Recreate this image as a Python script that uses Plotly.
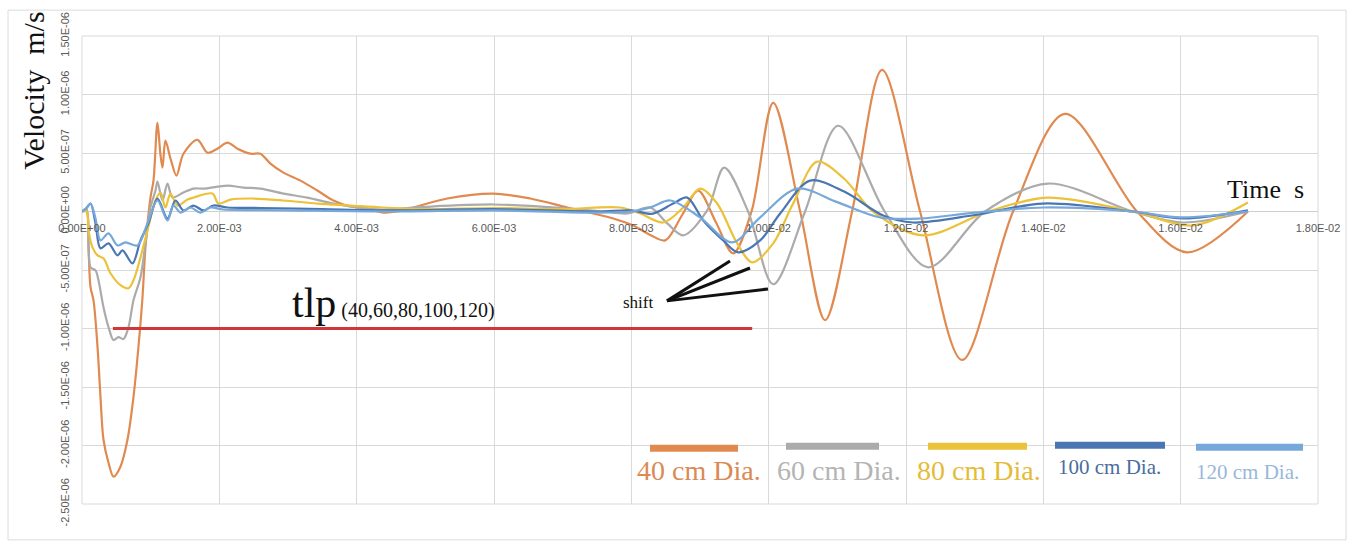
import plotly.graph_objects as go

# ---- series data: time in ms, particle velocity in 1e-6 m/s ----
time_40 = [0, 0.066, 0.095, 0.124, 0.167, 0.226, 0.269, 0.313, 0.386, 0.459, 0.560, 0.662, 0.750, 0.822,
           0.881, 0.924, 0.997, 1.041, 1.099, 1.140, 1.172, 1.215, 1.290, 1.376, 1.477, 1.681, 1.827, 1.972,
           2.118, 2.264, 2.453, 2.598, 2.744, 2.933, 3.181, 3.428, 3.661, 3.908, 4.156, 4.389, 4.593, 4.825,
           5.320, 5.990, 6.528, 7.067, 7.445, 7.737, 8.028, 8.275, 8.493, 8.740, 8.974, 9.230, 9.483, 9.750,
           10.066, 10.459, 10.822, 11.215, 11.652, 12.205, 12.817, 13.559, 14.316, 15.364, 16.092, 16.980]
vel_40 = [0, 0.0, -0.307, -0.647, -0.758, -1.158, -1.584, -1.951, -2.147, -2.266, -2.181, -1.951, -1.584, -1.158,
          -0.733, -0.307, 0.119, 0.264, 0.758, 0.500, 0.375, 0.605, 0.450, 0.307, 0.494, 0.613, 0.503, 0.537,
          0.588, 0.537, 0.494, 0.494, 0.409, 0.332, 0.264, 0.179, 0.094, 0.043, 0.026, -0.009, 0.0, 0.034,
          0.111, 0.153, 0.111, 0.034, -0.017, -0.060, -0.120, -0.200, -0.247, -0.030, 0.179, -0.090, -0.358, 0.0,
          0.928, 0.0, -0.928, 0.0, 1.210, 0.0, -1.269, 0.0, 0.835, 0.0, -0.349, 0.0]

time_60 = [0, 0.066, 0.124, 0.197, 0.240, 0.313, 0.386, 0.459, 0.531, 0.604, 0.677, 0.750, 0.852, 0.924,
           0.997, 1.070, 1.099, 1.172, 1.245, 1.317, 1.477, 1.623, 1.769, 2.118, 2.351, 2.598, 2.933, 3.282,
           3.661, 4.010, 4.389, 5.000, 6.000, 7.000, 7.600, 7.940, 8.275, 8.523, 8.756, 9.105, 9.352, 9.700,
           10.066, 10.530, 11.012, 11.690, 12.322, 13.150, 14.068, 15.306, 16.033, 16.980]
vel_60 = [0, 0.020, -0.477, -0.503, -0.588, -0.818, -0.988, -1.099, -1.073, -1.090, -0.988, -0.758, -0.562, -0.273,
          0.034, 0.179, 0.256, 0.094, 0.239, 0.120, 0.162, 0.196, 0.196, 0.221, 0.204, 0.196, 0.153, 0.119,
          0.068, 0.034, 0.017, 0.040, 0.060, 0.030, 0.0, -0.017, 0.034, -0.102, -0.204, 0.009, 0.375, 0.0,
          -0.622, 0.0, 0.733, 0.0, -0.477, 0.0, 0.239, 0.0, -0.094, 0.0]

time_80 = [0, 0.066, 0.095, 0.153, 0.226, 0.313, 0.415, 0.560, 0.677, 0.750, 0.852, 0.953, 1.070, 1.143,
           1.215, 1.288, 1.390, 1.536, 1.623, 1.900, 1.987, 2.162, 2.453, 2.933, 3.428, 3.908, 4.389, 5.000,
           6.000, 7.000, 7.838, 8.130, 8.464, 8.756, 9.003, 9.250, 9.541, 9.760, 10.066, 10.356, 10.706, 11.100,
           11.521, 12.249, 13.200, 14.054, 15.306, 16.179, 16.980]
vel_80 = [0, 0.0, -0.162, -0.307, -0.375, -0.400, -0.528, -0.630, -0.656, -0.588, -0.392, -0.162, 0.094, 0.162,
          0.034, 0.153, 0.051, 0.102, 0.119, 0.153, 0.068, 0.102, 0.111, 0.094, 0.068, 0.051, 0.034, 0.020,
          0.030, 0.020, 0.034, -0.017, -0.094, 0.034, 0.196, 0.068, -0.273, -0.434, -0.273, 0.068, 0.426, 0.280,
          0.0, -0.204, 0.0, 0.119, 0.0, -0.119, 0.077]

time_100 = [0, 0.066, 0.124, 0.197, 0.269, 0.386, 0.517, 0.590, 0.735, 0.852, 0.968, 1.099, 1.245, 1.361,
            1.477, 1.623, 1.769, 1.914, 2.118, 2.600, 3.500, 4.500, 6.000, 7.500, 8.000, 8.300, 8.610, 8.814,
            9.047, 9.338, 9.556, 9.876, 10.167, 10.604, 11.100, 11.667, 12.104, 13.000, 13.996, 15.306, 16.033,
            16.980]
vel_100 = [0, 0.030, 0.068, -0.102, -0.315, -0.273, -0.375, -0.332, -0.443, -0.247, -0.102, 0.111, -0.060, 0.094,
           0.009, 0.051, 0.009, 0.051, 0.034, 0.030, 0.020, 0.010, 0.020, 0.0, 0.010, -0.020, 0.068, 0.119,
           -0.077, -0.247, -0.349, -0.247, -0.017, 0.264, 0.170, -0.034, -0.094, -0.030, 0.068, 0.0, -0.060,
           0.009]

time_120 = [0, 0.066, 0.124, 0.197, 0.269, 0.386, 0.517, 0.633, 0.808, 0.953, 1.099, 1.245, 1.332, 1.434,
            1.579, 1.725, 1.870, 2.060, 3.000, 4.500, 6.000, 7.500, 8.000, 8.300, 8.566, 9.000, 9.469, 9.876,
            10.415, 11.000, 11.623, 12.205, 13.000, 14.000, 15.300, 16.000, 16.980]
vel_120 = [0, 0.030, 0.068, -0.060, -0.247, -0.187, -0.290, -0.264, -0.290, -0.102, 0.094, -0.077, 0.051, -0.009,
           0.034, -0.009, 0.034, 0.017, 0.010, 0.0, 0.010, -0.010, 0.0, 0.040, 0.094, -0.050, -0.264, -0.050,
           0.196, 0.080, -0.051, -0.060, -0.010, 0.034, 0.0, -0.050, 0.0]

series_names = ["40 cm Dia.", "60 cm Dia.", "80 cm Dia.", "100 cm Dia.", "120 cm Dia."]
series_time = [time_40, time_60, time_80, time_100, time_120]
series_vel = [vel_40, vel_60, vel_80, vel_100, vel_120]
series_colors = ["#E08A50", "#ABABAB", "#ECC23A", "#4A76B4", "#76A8DA"]
legend_text_colors = ["#D98A55", "#B4B4B4", "#E4BC3A", "#4A6D9E", "#98B8DA"]
legend_font_sizes = [28, 28, 28, 21, 21]

# axis ticks
x_ticks = [0.0, 0.002, 0.004, 0.006, 0.008, 0.010, 0.012, 0.014, 0.016, 0.018]
y_ticks = [-2.5e-6, -2.0e-6, -1.5e-6, -1.0e-6, -5.0e-7, 0.0, 5.0e-7, 1.0e-6, 1.5e-6]

# tlp span (s) drawn at -1e-6 m/s
tlp_start, tlp_end, tlp_level = 0.45e-3, 9.76e-3, -1.0e-6

MS = 1e-3
UM = 1e-6

W, H = 1353, 543
ML, MR, MT, MB = 82, 35, 34, 39
PW, PH = W - ML - MR, H - MT - MB


def px(x):
    return (x - ML) / PW


def py(y):
    return (H - MB - y) / PH


SERIF = "Liberation Serif"
SANS = "Liberation Sans"

fig = go.Figure()
for name, t, v, c in zip(series_names, series_time, series_vel, series_colors):
    fig.add_trace(go.Scatter(
        x=[ti * MS for ti in t], y=[vi * UM for vi in v], mode="lines", name=name,
        line=dict(color=c, width=2.2, shape="spline", smoothing=0.9), showlegend=False,
    ))

grid = "#d9d9d9"
fig.update_layout(
    width=W, height=H, margin=dict(l=ML, r=MR, t=MT, b=MB),
    paper_bgcolor="white", plot_bgcolor="white",
    xaxis=dict(range=[0, 0.018], tickvals=x_ticks, ticktext=[f"{v:.2E}" for v in x_ticks],
               showgrid=True, gridcolor=grid, gridwidth=1, zeroline=False, showline=False,
               anchor="free", position=(0 - y_ticks[0]) / (y_ticks[-1] - y_ticks[0]),
               ticks="", ticklabelstandoff=8, tickfont=dict(family=SANS, size=11, color="#595959")),
    yaxis=dict(range=[y_ticks[0], y_ticks[-1]], tickvals=y_ticks, ticktext=[f"{v:.2E}" for v in y_ticks],
               tickangle=-90, showgrid=True, gridcolor=grid, gridwidth=1,
               zeroline=True, zerolinecolor="#cfcfcf", zerolinewidth=1, showline=False,
               ticks="", ticklabelstandoff=10, tickfont=dict(family=SANS, size=11, color="#595959")),
)

shapes = [
    # plot-area frame
    dict(type="rect", xref="paper", yref="paper", x0=0, x1=1, y0=0, y1=1,
         line=dict(color=grid, width=1), layer="below"),
    # outer chart border
    dict(type="rect", xref="paper", yref="paper", x0=px(8), x1=px(1346), y0=py(540), y1=py(8),
         line=dict(color="#dcdcdc", width=1)),
    # tlp span
    dict(type="line", xref="x", yref="y", x0=tlp_start, x1=tlp_end, y0=tlp_level, y1=tlp_level,
         line=dict(color="#D0363A", width=3)),
]
# "shift" pointer lines
for ex, ey in [(730, 260), (750, 267), (768, 288)]:
    shapes.append(dict(type="line", xref="paper", yref="paper", x0=px(667), y0=py(300), x1=px(ex), y1=py(ey),
                       line=dict(color="#111111", width=3)))

# custom legend swatches and labels
legend_lines = [(650, 738, 448), (786, 879, 446), (928, 1027, 446), (1055, 1165, 445), (1196, 1303, 447)]
legend_labels = [(699, 470), (839, 470), (979, 470), (1109, 467), (1247, 472)]
annotations = []
for (x0, x1, yy), (lx, ly), c, tc, fs, name in zip(legend_lines, legend_labels, series_colors,
                                                   legend_text_colors, legend_font_sizes, series_names):
    shapes.append(dict(type="line", xref="paper", yref="paper", x0=px(x0), x1=px(x1), y0=py(yy), y1=py(yy),
                       line=dict(color=c, width=7)))
    annotations.append(dict(xref="paper", yref="paper", x=px(lx), y=py(ly), text=name, showarrow=False,
                            xanchor="center", yanchor="middle", font=dict(family=SERIF, size=fs, color=tc)))

annotations += [
    dict(xref="paper", yref="paper", x=px(34), y=py(89), text="Velocity  m/s", textangle=-90, showarrow=False,
         xanchor="center", yanchor="middle", font=dict(family=SERIF, size=30, color="#111111")),
    dict(xref="paper", yref="paper", x=px(1265), y=py(188), text="Time  s", showarrow=False,
         xanchor="center", yanchor="middle", font=dict(family=SERIF, size=26, color="#111111")),
    dict(xref="paper", yref="paper", x=px(290), y=py(302), text="tlp<span style='font-size:20px'> (40,60,80,100,120)</span>",
         showarrow=False, xanchor="left", yanchor="middle", font=dict(family=SERIF, size=42, color="#111111")),
    dict(xref="paper", yref="paper", x=px(638), y=py(302), text="shift", showarrow=False,
         xanchor="center", yanchor="middle", font=dict(family=SERIF, size=17, color="#111111")),
]

fig.update_layout(shapes=shapes, annotations=annotations)
fig.write_html("out.html")
